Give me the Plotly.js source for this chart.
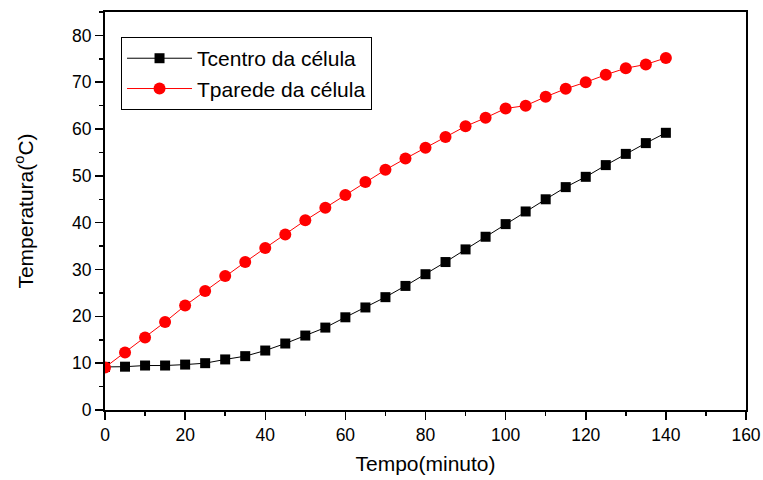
<!DOCTYPE html>
<html>
<head>
<meta charset="utf-8">
<script src="https://cdn.plot.ly/plotly-3.0.1.min.js"></script>
<style>
  html, body { margin: 0; padding: 0; background: #fff; }
  #chart { width: 763px; height: 480px; }
</style>
</head>
<body>
<div id="chart"></div>
<script>
// Time in minutes, sampled every 5 minutes
const tempo = [0, 5, 10, 15, 20, 25, 30, 35, 40, 45, 50, 55, 60, 65, 70,
               75, 80, 85, 90, 95, 100, 105, 110, 115, 120, 125, 130, 135, 140];

// Temperature at the cell centre (°C)
const tCentro = [9.2, 9.25, 9.5, 9.5, 9.7, 10.0, 10.8, 11.5, 12.7, 14.2, 15.9, 17.6, 19.8, 21.9, 24.1,
                 26.5, 29.0, 31.6, 34.3, 37.0, 39.7, 42.4, 45.0, 47.6, 49.8, 52.3, 54.7, 57.0, 59.2];

// Temperature at the cell wall (°C)
const tParede = [9.1, 12.3, 15.5, 18.8, 22.3, 25.4, 28.6, 31.6, 34.6, 37.5, 40.5, 43.2, 45.9, 48.7, 51.3,
                 53.7, 56.0, 58.3, 60.6, 62.4, 64.4, 65.0, 66.9, 68.6, 70.0, 71.6, 73.0, 73.8, 75.2];

const seriesNames = ['Tcentro da célula', 'Tparede da célula'];

const FONT = 'Liberation Sans, Arial, sans-serif';

const traces = [
  {
    x: tempo, y: tCentro, name: seriesNames[0],
    type: 'scatter', mode: 'lines+markers',
    line: { color: '#000000', width: 1 },
    marker: { symbol: 'square', size: 10, color: '#000000', line: { width: 0 } }
  },
  {
    x: tempo, y: tParede, name: seriesNames[1],
    type: 'scatter', mode: 'lines+markers',
    line: { color: '#ff0000', width: 1 },
    marker: { symbol: 'circle', size: 12, color: '#ff0000', line: { width: 0 } }
  }
];

const axisCommon = {
  showline: true, linecolor: '#000', linewidth: 2, mirror: true,
  showgrid: false, zeroline: false,
  ticks: 'outside', ticklen: 8, tickwidth: 1.5, tickcolor: '#000',
  tickfont: { family: FONT, size: 17.5, color: '#000' }
};

const minorTicks = { ticks: 'outside', ticklen: 4, tickwidth: 1.5, tickcolor: '#000' };

const layout = {
  width: 763, height: 480,
  margin: { l: 105, r: 17, t: 12, b: 70 },
  paper_bgcolor: '#fff', plot_bgcolor: '#fff',
  font: { family: FONT, color: '#000' },
  xaxis: Object.assign({}, axisCommon, {
    range: [0, 160], dtick: 20, tick0: 0,
    minor: Object.assign({ dtick: 10 }, minorTicks),
    title: { text: 'Tempo(minuto)', font: { family: FONT, size: 21, color: '#000' }, standoff: 12 }
  }),
  yaxis: Object.assign({}, axisCommon, {
    range: [0, 85], dtick: 10, tick0: 0,
    minor: Object.assign({ dtick: 5 }, minorTicks),
    title: { text: 'Temperatura(<sup>o</sup>C)', font: { family: FONT, size: 21, color: '#000' }, standoff: 33 }
  }),
  showlegend: true,
  legend: {
    x: 0.025, y: 0.937, xanchor: 'left', yanchor: 'top',
    bgcolor: '#fff', bordercolor: '#000', borderwidth: 1,
    font: { family: FONT, size: 21, color: '#000' },
    itemwidth: 65, tracegroupgap: 0
  }
};

Plotly.newPlot('chart', traces, layout, { displayModeBar: false, staticPlot: true });
</script>
</body>
</html>
